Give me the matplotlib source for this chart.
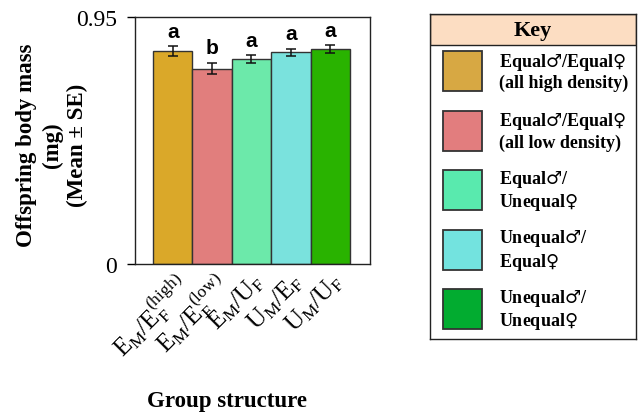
import matplotlib
matplotlib.use("Agg")
import matplotlib.pyplot as plt
from matplotlib.patches import Rectangle
from matplotlib.transforms import ScaledTranslation

plt.rcParams['mathtext.fontset'] = 'custom'
plt.rcParams['mathtext.rm'] = 'Liberation Serif'
plt.rcParams['mathtext.it'] = 'Liberation Serif:italic'
plt.rcParams['mathtext.bf'] = 'Liberation Serif:bold'
plt.rcParams['mathtext.sf'] = 'DejaVu Sans'

# data
groups = [r'$\mathrm{E_M/E_F^{(high)}}$', r'$\mathrm{E_M/E_F^{(low)}}$',
          r'$\mathrm{E_M/U_F}$', r'$\mathrm{U_M/E_F}$', r'$\mathrm{U_M/U_F}$']
means = [0.817, 0.750, 0.787, 0.813, 0.824]
se = [0.018, 0.022, 0.015, 0.013, 0.016]
letters = ['a', 'b', 'a', 'a', 'a']
bar_colors = ['#DAA829', '#E17E7D', '#6CE9AA', '#7AE2DD', '#29B300']

M = '$\\mathsf{\u2642}$'
F = '$\\mathsf{\u2640}$'
key_colors = ['#D7A843', '#E27D7E', '#59EAAE', '#73E3DF', '#02AC30']
key_labels = ['Equal' + M + '/Equal' + F + '\n(all high density)',
              'Equal' + M + '/Equal' + F + '\n(all low density)',
              'Equal' + M + '/\nUnequal' + F,
              'Unequal' + M + '/\nEqual' + F,
              'Unequal' + M + '/\nUnequal' + F]

serif = ['Liberation Serif', 'DejaVu Serif']

fig = plt.figure(figsize=(6.4, 4.14), dpi=100)
ax = fig.add_axes([135/640, 1-265/414, 235/640, 247.5/414])

x = range(len(means))
ax.bar(x, means, width=1.0, color=bar_colors, edgecolor='#333333', linewidth=1.0,
       yerr=se, capsize=3.5, error_kw=dict(elinewidth=1.1, capthick=1.1, ecolor='#111111'))

for i in x:
    ax.annotate(letters[i], (i, means[i] + se[i]), xytext=(0, 4), textcoords='offset points',
                ha='center', va='bottom', fontsize=15, fontweight='bold',
                fontfamily='Liberation Sans')

ax.set_xlim(-0.957, 5.008)
ax.set_ylim(0, 0.95)
ax.set_yticks([0, 0.95])
ax.set_yticklabels(['0', '0.95'], fontsize=17, fontfamily=serif)
ax.set_xticks(list(x))
ax.set_xticklabels(groups, rotation=45, ha='right', va='top', rotation_mode='anchor',
                   fontsize=18)
shift = ScaledTranslation(8/100, 0, fig.dpi_scale_trans)
for lbl in ax.get_xticklabels():
    lbl.set_transform(lbl.get_transform() + shift)
ax.tick_params(axis='x', length=0, pad=3)
ax.tick_params(axis='y', length=6, width=1.0, pad=7)
for s in ax.spines.values():
    s.set_linewidth(1.0)
    s.set_color('#222222')

fig.text(52/640, 1-145/414, 'Offspring body mass\n(mg)\n(Mean \u00b1 SE)', rotation=90,
         ha='center', va='center', fontsize=16.5, fontweight='bold',
         fontfamily=serif, linespacing=1.25)
fig.text(227/640, 1-402/414, 'Group structure', ha='center', va='center',
         fontsize=16.5, fontweight='bold', fontfamily=serif)

# key box
kx = fig.add_axes([430/640, 1-340/414, 206/640, 325/414])
kx.set_xlim(0, 206)
kx.set_ylim(325, 0)
kx.set_xticks([])
kx.set_yticks([])
for s in kx.spines.values():
    s.set_linewidth(1.0)
    s.set_color('#222222')
kx.add_patch(Rectangle((0, 0), 206, 31, facecolor='#FCDDC2', edgecolor='#222222', linewidth=1.0))
kx.text(103, 16, 'Key', ha='center', va='center', fontsize=16, fontweight='bold',
        fontfamily=serif)
for i, (c, lab) in enumerate(zip(key_colors, key_labels)):
    yc = 57 + 59.5 * i
    kx.add_patch(Rectangle((13, yc - 20), 39, 40, facecolor=c, edgecolor='#333333', linewidth=1.3))
    kx.text(69, yc, lab, ha='left', va='center', fontsize=13, fontweight='bold',
            fontfamily=serif, linespacing=1.15)

fig.savefig('out.png', dpi=100)
